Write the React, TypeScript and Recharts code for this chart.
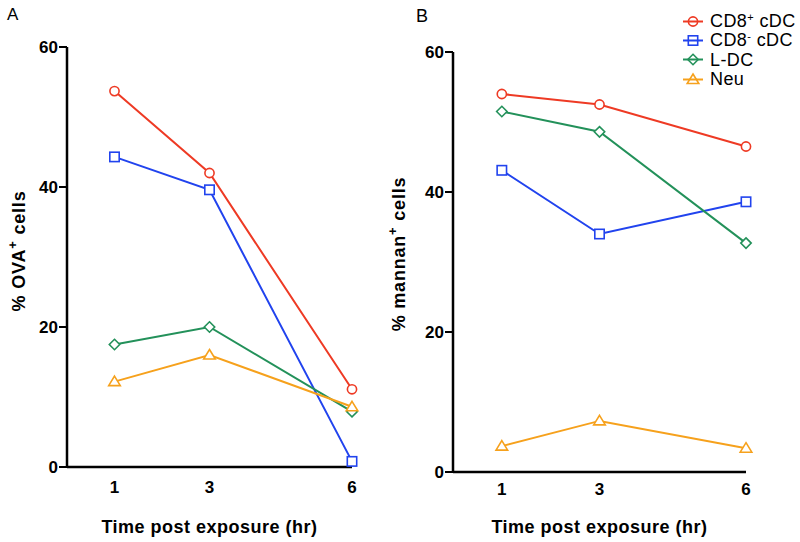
import { LineChart, Line, XAxis, YAxis, Legend, Label } from 'recharts'

const FONT = 'Liberation Sans, Arial, Helvetica, sans-serif'

// time points (hr) and axis ticks
const hours = [1, 3, 6]
const xTicks = [1, 3, 6]
const yTicks = [0, 20, 40, 60]

// panel A: % OVA+ cells
const ovaCd8Pos = [53.7, 42.0, 11.1]
const ovaCd8Neg = [44.3, 39.6, 0.8]
const ovaLdc = [17.5, 20.0, 7.9]
const ovaNeu = [12.2, 16.0, 8.6]

// panel B: % mannan+ cells
const mannanCd8Pos = [54.0, 52.5, 46.5]
const mannanCd8Neg = [43.1, 34.0, 38.6]
const mannanLdc = [51.5, 48.6, 32.7]
const mannanNeu = [3.7, 7.3, 3.4]

type Shape = 'circle' | 'square' | 'diamond' | 'triangle'

const series: { key: string, label: string, sup: string, tail: string, color: string, shape: Shape }[] = [
  { key: 'cd8pos', label: 'CD8', sup: '+', tail: ' cDC', color: '#EE3A24', shape: 'circle' },
  { key: 'cd8neg', label: 'CD8', sup: '-', tail: ' cDC', color: '#2143EE', shape: 'square' },
  { key: 'ldc', label: 'L-DC', sup: '', tail: '', color: '#23915A', shape: 'diamond' },
  { key: 'neu', label: 'Neu', sup: '', tail: '', color: '#F6A11C', shape: 'triangle' },
]

const ovaData = hours.map((t, i) => ({
  t, cd8pos: ovaCd8Pos[i], cd8neg: ovaCd8Neg[i], ldc: ovaLdc[i], neu: ovaNeu[i],
}))
const mannanData = hours.map((t, i) => ({
  t, cd8pos: mannanCd8Pos[i], cd8neg: mannanCd8Neg[i], ldc: mannanLdc[i], neu: mannanNeu[i],
}))

function Marker({ cx, cy, shape, color, fill = '#fff' }: { cx: number, cy: number, shape: Shape, color: string, fill?: string }) {
  const sw = 1.6
  if (shape === 'circle') return <circle cx={cx} cy={cy} r={4.6} fill={fill} stroke={color} strokeWidth={sw} />
  if (shape === 'square') return <rect x={cx - 4.7} y={cy - 4.7} width={9.4} height={9.4} fill={fill} stroke={color} strokeWidth={sw} />
  if (shape === 'diamond') return <path d={`M${cx},${cy - 5.2}L${cx + 5.2},${cy}L${cx},${cy + 5.2}L${cx - 5.2},${cy}Z`} fill={fill} stroke={color} strokeWidth={sw} />
  return <path d={`M${cx},${cy - 5.5}L${cx + 5.8},${cy + 4}L${cx - 5.8},${cy + 4}Z`} fill={fill} stroke={color} strokeWidth={sw} />
}

function YTitle({ x, y, main }: { x: number, y: number, main: string }) {
  return (
    <text x={x} y={y} transform={`rotate(-90 ${x} ${y})`} textAnchor="middle" letterSpacing={0.8}
      fontFamily={FONT} fontWeight="bold" fontSize={18} fill="#000">
      {main}<tspan dy={-8} fontSize={13}>+</tspan><tspan dy={8}> cells</tspan>
    </text>
  )
}

function LegendBox() {
  return (
    <div style={{ fontFamily: FONT, fontSize: 18, color: '#000', width: 130 }}>
      {series.map(s => (
        <div key={s.key} style={{ height: 19.3, display: 'flex', alignItems: 'center' }}>
          <svg width={22} height={19} style={{ overflow: 'visible' }}>
            <line x1={1} x2={21} y1={9.5} y2={9.5} stroke={s.color} strokeWidth={2} />
            <Marker cx={11} cy={9.5} shape={s.shape} color={s.color} fill="none" />
          </svg>
          <span style={{ marginLeft: 6, whiteSpace: 'nowrap', lineHeight: '18px', letterSpacing: 0.4 }}>
            {s.label}{s.sup && <sup style={{ fontSize: 11, verticalAlign: 6, lineHeight: 0 }}>{s.sup}</sup>}{s.tail}
          </span>
        </div>
      ))}
    </div>
  )
}

const axisStroke = { stroke: '#000', strokeWidth: 2.5 }
const tickStyle = { fill: '#000', fontSize: 17, fontWeight: 'bold', fontFamily: FONT }

function Panel({ data, width, yWidth, top, right, xHeight, tickMargin, title, titleX, titleY, showLegend }: {
  data: Record<string, number>[], width: number, yWidth: number, top: number, right: number,
  xHeight: number, tickMargin: number, title: string, titleX: number, titleY: number, showLegend?: boolean
}) {
  return (
    <LineChart width={width} height={542} data={data} margin={{ top, right, bottom: 0, left: 0 }}>
      <XAxis dataKey="t" type="number" domain={[0, 6]} ticks={xTicks} axisLine={axisStroke}
        tickLine={false} tickSize={6} tickMargin={tickMargin} tick={tickStyle} height={xHeight}>
        <Label content={(p: any) => {
          const vb = p.viewBox || {}
          return (
            <text x={vb.x + vb.width / 2} y={533} textAnchor="middle" fontFamily={FONT} letterSpacing={0.5}
              fontWeight="bold" fontSize={18} fill="#000">Time post exposure (hr)</text>
          )
        }} />
      </XAxis>
      <YAxis type="number" domain={[0, 60]} ticks={yTicks} width={yWidth} axisLine={axisStroke}
        tickLine={{ stroke: '#000', strokeWidth: 2 }} tickSize={8} tickMargin={1} tick={tickStyle}>
        <Label content={() => <YTitle x={titleX} y={titleY} main={title} />} />
      </YAxis>
      {series.map(s => (
        <Line key={s.key} dataKey={s.key} name={s.key} stroke={s.color} strokeWidth={2}
          isAnimationActive={false}
          dot={(p: any) => <Marker key={`${s.key}-${p.index}`} cx={p.cx} cy={p.cy} shape={s.shape} color={s.color} />}
          activeDot={false} />
      ))}
      {showLegend && (
        <Legend content={() => <LegendBox />}
          wrapperStyle={{ position: 'absolute', left: 302, top: 11.5, width: 0, height: 0, overflow: 'visible' }} />
      )}
    </LineChart>
  )
}

export default function App() {
  return (
    <div style={{ position: 'absolute', left: 0, top: 0, width: 800, height: 542, background: '#fff' }}>
      <div style={{ position: 'absolute', left: 0, top: 0 }}>
        <Panel data={ovaData} width={380} yWidth={67} top={47} right={28} xHeight={75} tickMargin={8}
          title="% OVA" titleX={25} titleY={251} />
      </div>
      <div style={{ position: 'absolute', left: 380, top: 0 }}>
        <Panel data={mannanData} width={420} yWidth={73} top={52} right={54} xHeight={70} tickMargin={5}
          title="% mannan" titleX={25} titleY={254} showLegend />
      </div>
      <svg width={800} height={30} style={{ position: 'absolute', left: 0, top: 0 }}>
        <text x={7} y={19.5} fontFamily={FONT} fontSize={17} fill="#000">A</text>
        <text x={416} y={21.5} fontFamily={FONT} fontSize={18} fill="#000">B</text>
      </svg>
    </div>
  )
}
